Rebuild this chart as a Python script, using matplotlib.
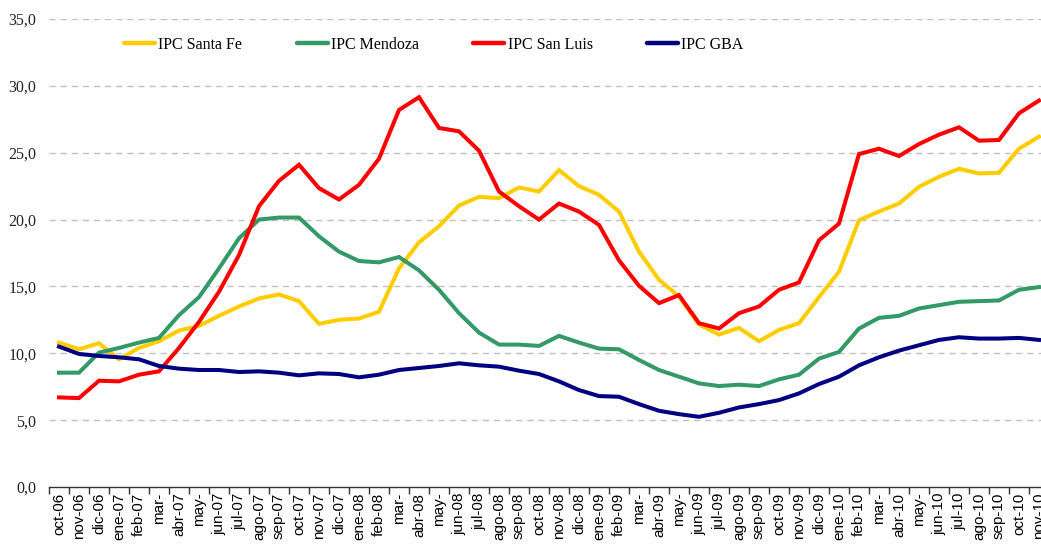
import numpy as np
import matplotlib
matplotlib.use("Agg")
import matplotlib.pyplot as plt
from matplotlib.ticker import FixedLocator, FuncFormatter

# -- Data --

months = ["oct-06", "nov-06", "dic-06", "ene-07", "feb-07", "mar-", "abr-07", "may-",
          "jun-07", "jul-07", "ago-07", "sep-07", "oct-07", "nov-07", "dic-07", "ene-08",
          "feb-08", "mar-", "abr-08", "may-", "jun-08", "jul-08", "ago-08", "sep-08",
          "oct-08", "nov-08", "dic-08", "ene-09", "feb-09", "mar-", "abr-09", "may-",
          "jun-09", "jul-09", "ago-09", "sep-09", "oct-09", "nov-09", "dic-09", "ene-10",
          "feb-10", "mar-", "abr-10", "may-", "jun-10", "jul-10", "ago-10", "sep-10",
          "oct-10", "nov-10"]

santa_fe = [10.8, 10.3, 10.75, 9.55, 10.4, 10.9, 11.7, 12.05, 12.8, 13.5,
            14.1, 14.4, 13.9, 12.2, 12.5, 12.6, 13.1, 16.35, 18.3, 19.5,
            21.05, 21.7, 21.6, 22.4, 22.1, 23.7, 22.5, 21.85, 20.6, 17.6,
            15.5, 14.25, 12.15, 11.4, 11.9, 10.9, 11.75, 12.25, 14.2, 16.1,
            19.95, 20.6, 21.2, 22.45, 23.2, 23.8, 23.45, 23.5, 25.3, 26.2]

mendoza = [8.55, 8.55, 10.05, 10.4, 10.8, 11.15, 12.85, 14.2, 16.35, 18.6,
           20.0, 20.15, 20.15, 18.75, 17.6, 16.9, 16.8, 17.2, 16.2, 14.75,
           13.0, 11.55, 10.65, 10.65, 10.55, 11.3, 10.8, 10.35, 10.3, 9.5,
           8.75, 8.25, 7.75, 7.55, 7.65, 7.55, 8.05, 8.4, 9.6, 10.1,
           11.85, 12.65, 12.8, 13.35, 13.6, 13.85, 13.9, 13.95, 14.75, 14.95]

san_luis = [6.7, 6.65, 7.95, 7.9, 8.4, 8.65, 10.4, 12.35, 14.6, 17.35,
            21.0, 22.9, 24.1, 22.35, 21.5, 22.6, 24.55, 28.2, 29.15, 26.85,
            26.6, 25.15, 22.1, 21.0, 20.0, 21.2, 20.6, 19.6, 16.95, 15.05,
            13.75, 14.35, 12.25, 11.85, 13.0, 13.5, 14.75, 15.3, 18.45, 19.7,
            24.9, 25.3, 24.75, 25.65, 26.35, 26.9, 25.9, 25.95, 27.95, 28.9]

gba = [10.5, 9.95, 9.8, 9.7, 9.55, 9.05, 8.85, 8.75, 8.75, 8.6,
       8.65, 8.55, 8.35, 8.5, 8.45, 8.2, 8.4, 8.75, 8.9, 9.05,
       9.25, 9.1, 9.0, 8.7, 8.45, 7.9, 7.25, 6.8, 6.75, 6.2,
       5.7, 5.45, 5.25, 5.55, 5.95, 6.2, 6.5, 7.0, 7.7, 8.25,
       9.1, 9.7, 10.2, 10.6, 11.0, 11.2, 11.1, 11.1, 11.15, 11.0]

series = [
    ("IPC Santa Fe", santa_fe, "#FFCC00"),
    ("IPC Mendoza", mendoza, "#339966"),
    ("IPC San Luis", san_luis, "#FF0000"),
    ("IPC GBA", gba, "#000080"),
]

# -- Plot --

fig = plt.figure(figsize=(10.41, 5.44), dpi=100)
ax = fig.add_axes([49/1041, 57/544, 1000/1041, 468/544])

x = np.arange(len(months))
for name, vals, color in series:
    ax.plot(x, vals, color=color, lw=2.9, label=name, solid_joinstyle="miter")

ax.set_xlim(-0.5, len(months) - 0.5)
ax.set_ylim(0, 35)

# y axis
yticks = np.arange(0, 36, 5)
ax.set_yticks(yticks)
ax.yaxis.set_major_formatter(FuncFormatter(lambda v, p: f"{v:.1f}".replace(".", ",")))
ax.tick_params(axis="y", length=0, pad=9)
for lab in ax.get_yticklabels():
    lab.set_fontfamily("Liberation Serif")
    lab.set_fontsize(11.5)
    lab.set_color("#222222")
for yv in yticks[1:]:
    ax.axhline(yv, color="#C0C0C0", lw=1.0, ls=(0, (4.5, 3.5)), zorder=0)

# x axis
ax.set_xticks(x)
ax.set_xticklabels(months, rotation=90, fontfamily="Liberation Sans", fontsize=11)
ax.tick_params(axis="x", which="major", length=0, pad=4)
ax.xaxis.set_minor_locator(FixedLocator(np.arange(-0.5, len(months), 1.0)))
ax.tick_params(axis="x", which="minor", length=5, width=1, color="#333333", direction="out")

for s in ["top", "right", "left"]:
    ax.spines[s].set_visible(False)
ax.spines["bottom"].set_color("#333333")
ax.spines["bottom"].set_linewidth(1)

leg = ax.legend(loc="center left", bbox_to_anchor=(124/1041, 1 - 45/544),
                bbox_transform=fig.transFigure, ncol=4, frameon=False,
                borderpad=0, borderaxespad=0,
                handlelength=1.95, handletextpad=0.2, columnspacing=3.4,
                prop={"family": "Liberation Serif", "size": 11.5})
for line in leg.get_lines():
    line.set_linewidth(3.2)
    line.set_solid_capstyle("round")

fig.savefig("out.png", dpi=100)
